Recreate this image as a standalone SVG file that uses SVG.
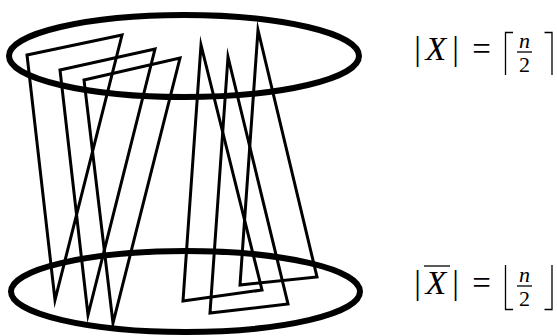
<svg xmlns="http://www.w3.org/2000/svg" width="557" height="336" viewBox="0 0 557 336">
<style>
.ell{fill:none;stroke:#000;stroke-width:6}
.tri{fill:none;stroke:#000;stroke-width:3;stroke-linejoin:miter;stroke-miterlimit:20}
.m{font-family:"Liberation Serif","DejaVu Serif",serif;font-size:33px;fill:#000;text-anchor:middle}
.x{font-family:"Liberation Serif","DejaVu Serif",serif;font-size:34px;fill:#000;font-style:italic;text-anchor:middle}
.i{font-style:italic}
.f{font-family:"Liberation Serif","DejaVu Serif",serif;font-size:22px;fill:#000;text-anchor:middle}
.rule{stroke:#000;stroke-width:1.3;fill:none}
</style>
<rect width="557" height="336" fill="#fff"/>
<g id="set-X">
<ellipse class="ell" cx="184" cy="56" rx="175" ry="41"/>
</g>
<g id="set-Xbar">
<ellipse class="ell" cx="185.5" cy="291.5" rx="174.5" ry="40.5"/>
</g>
<g id="connectors">
<polygon class="tri" points="27,55 122,35 55,300"/>
<polygon class="tri" points="60,70 155,49 88,315"/>
<polygon class="tri" points="84,80 180,58 113,323"/>
<polygon class="tri" points="201,45 183,301 262,290"/>
<polygon class="tri" points="228,57 210,313 288,304"/>
<polygon class="tri" points="258,30 240,285 317,277"/>
</g>
<g id="label-X">
<text class="m" x="417.5" y="60">|</text>
<text class="x" x="436" y="60">X</text>
<text class="m" x="455.5" y="60">|</text>
<text class="m" x="481.5" y="60">=</text>
<polyline class="rule" points="513,32.5 505.5,32.5 505.5,75"/>
<text class="f i" x="524.5" y="48">n</text>
<line class="rule" x1="517" y1="52" x2="532" y2="52"/>
<text class="f" x="524.5" y="72">2</text>
<polyline class="rule" points="544.5,32.5 552,32.5 552,75"/>
</g>
<g id="label-Xbar">
<text class="m" x="417.5" y="294">|</text>
<line class="rule" x1="424" y1="266" x2="450" y2="266"/>
<text class="x" x="436" y="294">X</text>
<text class="m" x="455.5" y="294">|</text>
<text class="m" x="481.5" y="294">=</text>
<polyline class="rule" points="505.5,265 505.5,309.5 513,309.5"/>
<text class="f i" x="524.5" y="282">n</text>
<line class="rule" x1="517" y1="286" x2="532" y2="286"/>
<text class="f" x="524.5" y="306">2</text>
<polyline class="rule" points="552,265 552,309.5 544.5,309.5"/>
</g>
</svg>
